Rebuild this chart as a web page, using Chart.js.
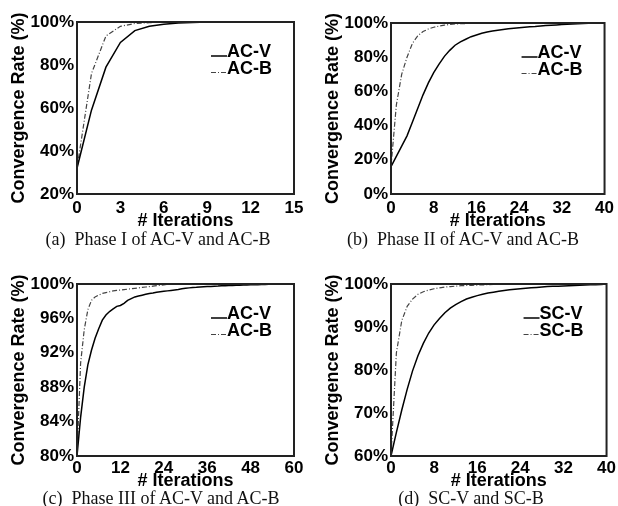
<!DOCTYPE html>
<html>
<head>
<meta charset="utf-8">
<script src="https://cdn.jsdelivr.net/npm/chart.js@4.4.1/dist/chart.umd.min.js"></script>
<style>
  body { margin: 0; width: 618px; height: 506px; position: relative; background: #fff; overflow: hidden; }
  canvas { position: absolute; }
  .cap { position: absolute; font-family: "Liberation Serif", serif; font-size: 18px; line-height: 20px; white-space: pre; transform: translateX(-50%); color: #111; }
</style>
</head>
<body>
<canvas id="chartA" width="309" height="232" style="left:0;top:0"></canvas>
<canvas id="chartB" width="309" height="232" style="left:309px;top:0"></canvas>
<canvas id="chartC" width="309" height="240" style="left:0;top:250px"></canvas>
<canvas id="chartD" width="309" height="240" style="left:309px;top:250px"></canvas>
<div class="cap" style="left:158px;top:229px">(a)  Phase I of AC-V and AC-B</div>
<div class="cap" style="left:463px;top:229px">(b)  Phase II of AC-V and AC-B</div>
<div class="cap" style="left:161px;top:488px">(c)  Phase III of AC-V and AC-B</div>
<div class="cap" style="left:471px;top:488px">(d)  SC-V and SC-B</div>
<script>
// (a) Phase I
const itersA = [0, 1, 2, 3, 4, 5, 6, 7, 8, 9, 10, 11, 12, 13, 14, 15];
const acvA = [32, 59, 79, 90.5, 96, 98, 99, 99.5, 99.8, 100, 100, 100, 100, 100, 100, 100];
const acbA = [32, 76, 93.5, 98, 99.3, 99.7, 100, 100, 100, 100, 100, 100, 100, 100, 100, 100];

// (b) Phase II
const itersB = [0, 1, 2, 3, 4, 5, 6, 7, 8, 9, 10, 11, 12, 13, 14, 15, 16, 17, 18, 19, 20,
  21, 22, 23, 24, 25, 26, 27, 28, 29, 30, 31, 32, 33, 34, 35, 36, 37, 38, 39, 40];
const acvB = [16, 22, 28, 34, 42, 50, 58, 65, 71, 76, 80.5, 84, 87, 89, 90.5, 92, 93, 94, 94.7, 95.3, 95.8,
  96.2, 96.6, 96.9, 97.2, 97.5, 97.8, 98, 98.3, 98.5, 98.7, 98.9, 99.1, 99.3, 99.4, 99.6, 99.7, 99.8, 99.9, 100, 100];
const acbB = [16, 52, 70, 80, 88, 92.5, 95, 96.5, 97.5, 98.2, 98.8, 99.1, 99.4, 99.6, 99.7, 99.8, 99.9, 99.9, 100, 100, 100,
  100, 100, 100, 100, 100, 100, 100, 100, 100, 100, 100, 100, 100, 100, 100, 100, 100, 100, 100, 100];

// (c) Phase III
const itersC = [0, 1, 2, 3, 4, 5, 6, 7, 8, 9, 10, 11, 12, 13, 14, 15, 16, 17, 18, 19, 20,
  21, 22, 23, 24, 25, 26, 27, 28, 29, 30, 31, 32, 33, 34, 35, 36, 37, 38, 39, 40,
  41, 42, 43, 44, 45, 46, 47, 48, 49, 50, 51, 52, 53, 54, 55, 56, 57, 58, 59, 60];
const acvC = [80, 84.5, 88, 90.6, 92.3, 93.7, 94.8, 95.8, 96.4, 96.8, 97.1, 97.4, 97.5, 97.75, 98.1, 98.3, 98.5, 98.6, 98.7, 98.8, 98.9,
  98.95, 99.05, 99.1, 99.15, 99.2, 99.25, 99.3, 99.35, 99.45, 99.5, 99.55, 99.6, 99.62, 99.65, 99.68, 99.7, 99.72, 99.75, 99.77, 99.8,
  99.81, 99.82, 99.84, 99.85, 99.86, 99.87, 99.88, 99.9, 99.91, 99.92, 99.93, 99.95, 99.96, 99.97, 99.98, 100, 100, 100, 100, 100];
const acbC = [80, 90.8, 94.7, 97, 98.1, 98.5, 98.7, 98.9, 99, 99.1, 99.2, 99.25, 99.3, 99.35, 99.4, 99.45, 99.5, 99.55, 99.6, 99.65, 99.7,
  99.75, 99.8, 99.85, 99.9, 99.95, 100, 100, 100, 100, 100, 100, 100, 100, 100, 100, 100, 100, 100, 100, 100,
  100, 100, 100, 100, 100, 100, 100, 100, 100, 100, 100, 100, 100, 100, 100, 100, 100, 100, 100, 100];

// (d) SC-V / SC-B
const itersD = itersB;
const scvD = [60, 65.5, 70.7, 75.5, 79.8, 83.3, 86.2, 88.6, 90.5, 92, 93.3, 94.4, 95.2, 95.9, 96.5, 96.9, 97.3, 97.6, 97.9, 98.1, 98.3,
  98.5, 98.65, 98.8, 98.9, 99, 99.1, 99.2, 99.3, 99.4, 99.45, 99.5, 99.55, 99.6, 99.65, 99.7, 99.75, 99.8, 99.85, 99.9, 100];
const scbD = [60, 84, 91.5, 94.8, 96.5, 97.6, 98.2, 98.6, 98.9, 99.1, 99.3, 99.4, 99.5, 99.6, 99.65, 99.7, 99.75, 99.8, 99.85, 99.9, 99.92,
  99.94, 99.96, 99.98, 100, 100, 100, 100, 100, 100, 100, 100, 100, 100, 100, 100, 100, 100, 100, 100, 100];

const SANS = "'Liberation Sans', Arial, sans-serif";

function pts(xs, ys) {
  return xs.map((x, i) => ({ x: x, y: ys[i] }));
}

// box around plot + legend inside the plot area
const boxLegend = {
  id: "boxLegend",
  afterDraw(chart) {
    const ctx = chart.ctx;
    const a = chart.chartArea;
    ctx.save();
    ctx.strokeStyle = "#222";
    ctx.lineWidth = 2;
    ctx.strokeRect(a.left, a.top, a.right - a.left, a.bottom - a.top);

    const x0 = a.right - 83;
    chart.data.datasets.forEach((ds, i) => {
      const y = a.top + 34 + i * 16.5;
      ctx.beginPath();
      ctx.setLineDash(ds.borderDash || []);
      ctx.strokeStyle = ds.borderColor;
      ctx.lineWidth = ds.borderWidth;
      ctx.moveTo(x0, y);
      ctx.lineTo(x0 + 16, y);
      ctx.stroke();
      ctx.setLineDash([]);
      ctx.fillStyle = "#000";
      ctx.font = "bold 18px " + SANS;
      ctx.textBaseline = "alphabetic";
      ctx.fillText(ds.label, x0 + 16, y + 1);
    });
    ctx.restore();
  }
};

function makePanel(id, xs, solid, dashed, names, xMax, xStep, yMin, yStep, lay) {
  return new Chart(document.getElementById(id), {
    type: "line",
    data: {
      datasets: [
        {
          label: names[0],
          data: pts(xs, solid),
          borderColor: "#000",
          borderWidth: 1.5,
          pointRadius: 0,
          tension: 0,
          parsing: false
        },
        {
          label: names[1],
          data: pts(xs, dashed),
          borderColor: "#444",
          borderDash: [5, 2, 1, 2],
          borderWidth: 1.2,
          pointRadius: 0,
          tension: 0,
          parsing: false
        }
      ]
    },
    options: {
      responsive: false,
      animation: false,
      layout: { padding: { top: lay.top, right: lay.right, left: 0, bottom: 0 } },
      plugins: { legend: { display: false }, tooltip: { enabled: false } },
      scales: {
        x: {
          type: "linear",
          min: 0,
          max: xMax,
          grid: { display: false, drawTicks: false },
          border: { display: false },
          ticks: {
            stepSize: xStep,
            autoSkip: false,
            padding: lay.tickPad,
            color: "#000",
            font: { family: SANS, size: 17, weight: "bold" }
          },
          title: {
            display: true,
            text: "# Iterations",
            color: "#000",
            padding: { top: 0, bottom: lay.xTitle },
            font: { family: SANS, size: 18, weight: "bold", lineHeight: 1 }
          },
          afterFit(s) { s.height = lay.bottom; }
        },
        y: {
          min: yMin,
          max: 100,
          grid: { display: false, drawTicks: false },
          border: { display: false },
          ticks: {
            stepSize: yStep,
            autoSkip: false,
            padding: 3,
            color: "#000",
            font: { family: SANS, size: 17, weight: "bold" },
            callback: v => v + "%"
          },
          title: {
            display: true,
            text: "Convergence Rate (%)",
            color: "#000",
            padding: { top: lay.yTitle, bottom: 0 },
            font: { family: SANS, size: 18, weight: "bold", lineHeight: 1 }
          },
          afterFit(s) { s.width = lay.left; }
        }
      }
    },
    plugins: [boxLegend]
  });
}

makePanel("chartA", itersA, acvA, acbA, ["AC-V", "AC-B"], 15, 3, 20, 20,
  { top: 22, right: 15, left: 77, bottom: 38, xTitle: 2, yTitle: 10, tickPad: 4 });
makePanel("chartB", itersB, acvB, acbB, ["AC-V", "AC-B"], 40, 8, 0, 20,
  { top: 23, right: 11, left: 82, bottom: 38, xTitle: 2, yTitle: 15, tickPad: 4 });
makePanel("chartC", itersC, acvC, acbC, ["AC-V", "AC-B"], 60, 12, 80, 4,
  { top: 34, right: 15, left: 77, bottom: 34, xTitle: 0, yTitle: 10, tickPad: 2 });
makePanel("chartD", itersD, scvD, scbD, ["SC-V", "SC-B"], 40, 8, 60, 10,
  { top: 34, right: 11, left: 82, bottom: 34, xTitle: 0, yTitle: 15, tickPad: 2 });
</script>
</body>
</html>
